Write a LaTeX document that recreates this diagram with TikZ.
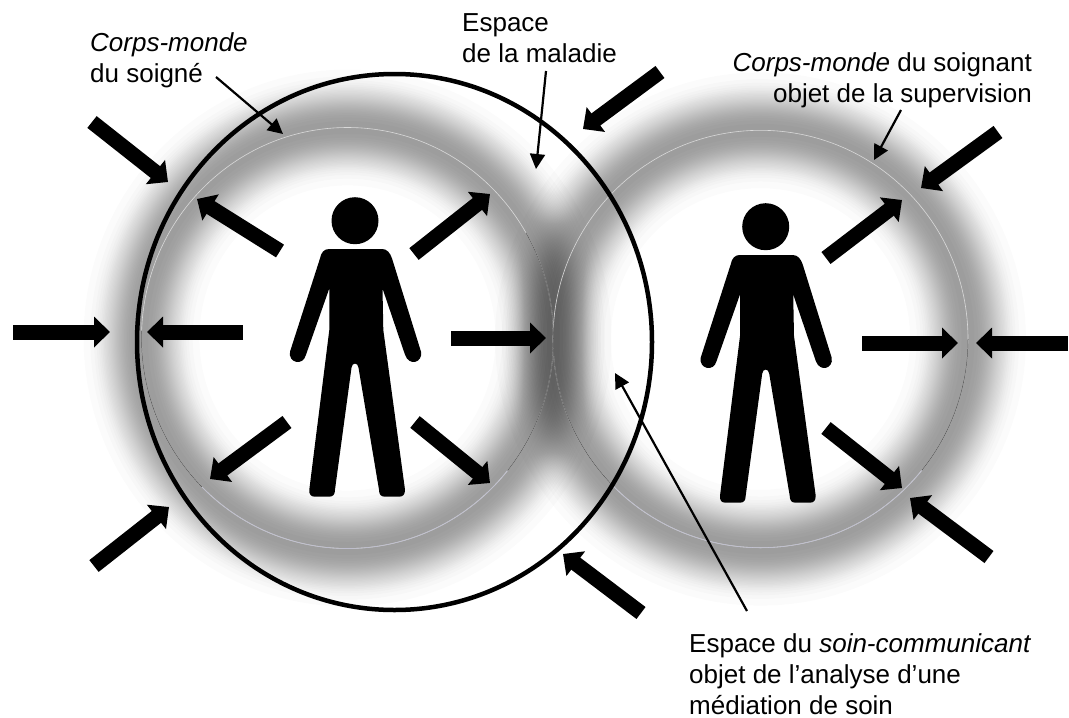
\documentclass[tikz,border=0pt]{standalone}
\usepackage{fontspec}
\setmainfont{Liberation Sans}
\usetikzlibrary{arrows.meta}
\def\N{30}

\begin{document}
\begin{tikzpicture}[x=1pt,y=-1pt,
  bigarrow/.style={line width=15pt,-{Triangle[length=16pt,width=30pt]}},
  thinarrow/.style={line width=2.2pt,-{Triangle[length=15pt,width=15pt]}},
  ringdark/.style={black!70,line width=.5pt},
  ringpale/.style={white!85!black,line width=.6pt},
  ringblue/.style={blue!15!gray!45,line width=.6pt},
  txt/.style={inner sep=0pt,font=\fontsize{26}{31}\selectfont}]
  \useasboundingbox (0,0) rectangle (1069,718);

  \coordinate (cl) at (347.5,338);
  \coordinate (cr) at (760.5,339);

  % the two halos
  \foreach \c/\rx/\ry in {cl/206/210.5,cr/207.5/208.7} {
    \foreach \k in {1,...,\N} {
      \pgfmathsetmacro\w{33*(-ln((\k-.5)/\N))^.4}
      \fill[black,opacity=.017,even odd rule] (\c) ellipse ({\rx+\w} and {\ry+\w}) ellipse ({\rx-\w} and {\ry-\w});
    }
  }

  % thin rings
  \foreach \c/\rx/\ry in {cl/206/210.5,cr/207.5/208.7} {
    \draw[ringpale] (\c) ellipse ({\rx} and {\ry});
    \draw[ringblue] (\c) ++(39:{\rx} and {\ry}) arc (39:135:{\rx} and {\ry});
    \draw[ringdark] (\c) ++(135:{\rx} and {\ry}) arc (135:182:{\rx} and {\ry});
  }
  \draw[ringdark] (cl) ++(-30:206 and 210.5) arc (-30:39:206 and 210.5);
  \draw[ringdark] (cr) ++(0:207.5 and 208.7) arc (0:39:207.5 and 208.7);

  % space of the illness
  \draw[line width=4.5pt] (394.5,342) ellipse (257.5 and 268);

  % the two figures
  \foreach \name/\x/\y in {soigne/355/220.7,soignant/765.7/226.7} {
    \begin{scope}[shift={(\x,\y)}]
      \fill (0,0) circle (23.5);
      \fill (-26,28.3) .. controls (-31,28.3) and (-34,32) .. (-35,37.7)
        -- (-65,131) .. controls (-67,142) and (-52,146) .. (-49,134)
        -- (-25.7,67.7) -- (-25.7,109.3) -- (-45.7,269)
        .. controls (-46,274) and (-44,276) .. (-40,276)
        -- (-26,276) .. controls (-22,276) and (-20,274) .. (-20,269)
        -- (-3.5,147) .. controls (-3,141.5) and (3,141.5) .. (3.5,147)
        -- (24,269) .. controls (24,274) and (26,276) .. (30,276)
        -- (44,276) .. controls (48,276) and (50,274) .. (50,269)
        -- (28.3,109.3) -- (27.5,67.7)
        -- (50,134) .. controls (54,146) and (68,142) .. (66,131)
        -- (37,37.7) .. controls (35,32) and (32,28.3) .. (27,28.3) -- cycle;
    \end{scope}
  }

  % thick arrows
  \foreach \i/\xa/\ya/\xb/\yb in {
    1/92/122/168/182, 2/13/332/110/332, 3/94/566/169/507,
    4/641/613/563/554, 5/660/72/583/129,
    6/280/251/197/199, 7/243/332/147/332, 8/287/422/210/479,
    9/415/422/490/483, 10/451/338/546/338, 11/414/254/490/194,
    12/826/258/902/200, 13/862/343/958/343, 14/826/428/902/488,
    15/998/132/921/188, 16/1068/343/976/343, 17/989/557/910/498} {
    \coordinate (s\i) at (\xa,\ya);
    \coordinate (t\i) at (\xb,\yb);
    \draw[bigarrow] (s\i) -- (t\i);
  }

  % labels
  \node[txt,anchor=base west,align=left] (soigne) at (90,82.7) {\textit{Corps-monde}\\du soigné};
  \node[txt,anchor=base west,align=left] (maladie) at (462,62) {Espace\\de la maladie};
  \node[txt,anchor=base east,align=right] (soignant) at (1032,102.7) {\textit{Corps-monde} du soignant\\objet de la supervision};
  \node[txt,anchor=base west,align=left] (soin) at (689,714) {Espace du \textit{soin-communicant}\\objet de l’analyse d’une\\médiation de soin};

  % thin arrows
  \coordinate (p1) at (216,77);
  \coordinate (q1) at (283,134);
  \coordinate (p2) at (546,71);
  \coordinate (q2) at (536,169);
  \coordinate (p3) at (901,110);
  \coordinate (q3) at (874,160);
  \coordinate (p4) at (747,611);
  \coordinate (q4) at (615,373);
  \foreach \i in {1,...,4} {
    \draw[thinarrow] (p\i) -- (q\i);
  }
\end{tikzpicture}
\end{document}
